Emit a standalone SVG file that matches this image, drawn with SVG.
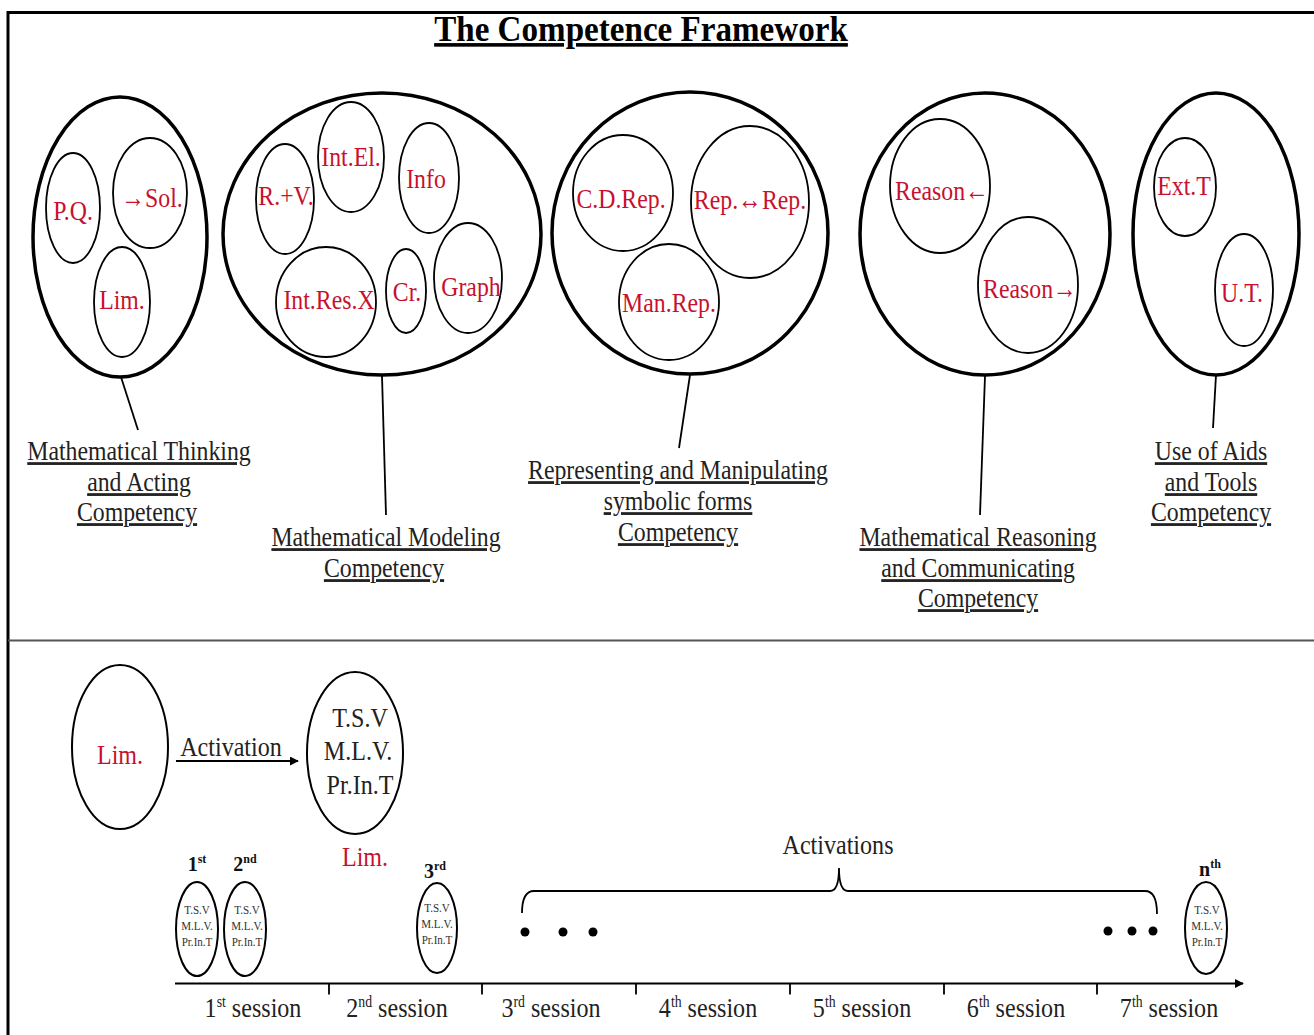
<svg xmlns="http://www.w3.org/2000/svg" width="1314" height="1035" viewBox="0 0 1314 1035">
<defs>
<style>
.big{fill:none;stroke:#000;stroke-width:3.5}
.in{fill:none;stroke:#000;stroke-width:1.8}
.ov{fill:none;stroke:#000;stroke-width:2}
text{font-family:"Liberation Serif","Times New Roman",serif;text-anchor:middle}
.red{font-size:28px;fill:#c8102e}
.lbl{font-size:28px;fill:#222;text-decoration:underline}
.blk{font-size:28px;fill:#222}
.sm{font-size:13.5px;fill:#333}
.ord{font-size:20px;font-weight:bold;fill:#111}
.con{stroke:#000;stroke-width:1.8;fill:none}
</style>
<marker id="ah" viewBox="0 0 10 10" refX="9" refY="5" markerWidth="9" markerHeight="9" markerUnits="userSpaceOnUse" orient="auto">
<path d="M0,0 L10,5 L0,10 z" fill="#000"/>
</marker>
</defs>
<rect width="1314" height="1035" fill="#fff"/>
<!-- frame -->
<line x1="7" y1="12.5" x2="1314" y2="12.5" stroke="#000" stroke-width="3"/>
<line x1="8" y1="11" x2="8" y2="1035" stroke="#000" stroke-width="3"/>
<line x1="8" y1="640.5" x2="1314" y2="640.5" stroke="#555" stroke-width="2"/>
<text transform="translate(641,41) scale(0.92,1)" font-size="36" font-weight="bold" text-decoration="underline" fill="#000">The Competence Framework</text>

<g id="connectors">
<line class="con" x1="121" y1="377" x2="138" y2="430"/>
<line class="con" x1="382" y1="376" x2="386" y2="515"/>
<line class="con" x1="690" y1="375" x2="679" y2="448"/>
<line class="con" x1="985" y1="376" x2="980" y2="515"/>
<line class="con" x1="1216" y1="375" x2="1213" y2="428"/>
<line class="con" x1="176" y1="761" x2="298" y2="761" marker-end="url(#ah)"/>
<line class="con" x1="175" y1="983.5" x2="1243" y2="983.5" marker-end="url(#ah)"/>
<path class="con" d="M329,983.5 v11 M482,983.5 v11 M636,983.5 v11 M790,983.5 v11 M944,983.5 v11 M1097,983.5 v11"/>
<path class="con" d="M522,913 Q522,891 534,891 L830,891 Q839,891 839,868 Q839,891 848,891 L1145,891 Q1157,891 1157,914"/>
</g>

<g id="thinking">
<ellipse class="big" cx="120" cy="237" rx="87" ry="140"/>
<ellipse class="in" cx="73" cy="208" rx="27" ry="55"/>
<ellipse class="in" cx="150" cy="193" rx="37" ry="55"/>
<ellipse class="in" cx="122" cy="302" rx="28" ry="55"/>
<text class="red" transform="translate(73,220) scale(0.85,1)">P.Q.</text>
<text class="red" transform="translate(152,207) scale(0.85,1)">→Sol.</text>
<text class="red" transform="translate(122,309) scale(0.85,1)">Lim.</text>
<text class="lbl" transform="translate(139,460) scale(0.85,1)">Mathematical Thinking</text>
<text class="lbl" transform="translate(139,491) scale(0.85,1)">and Acting</text>
<text class="lbl" transform="translate(137,521) scale(0.85,1)">Competency</text>
</g>

<g id="modeling">
<ellipse class="big" cx="382" cy="234" rx="159" ry="141"/>
<ellipse class="in" cx="285" cy="199" rx="29" ry="55"/>
<ellipse class="in" cx="351" cy="157" rx="33" ry="55"/>
<ellipse class="in" cx="429" cy="178" rx="30" ry="55"/>
<ellipse class="in" cx="326" cy="302" rx="50" ry="55"/>
<ellipse class="in" cx="406" cy="291" rx="20" ry="42"/>
<ellipse class="in" cx="468" cy="278" rx="34" ry="55"/>
<text class="red" transform="translate(286,205) scale(0.85,1)">R.+V.</text>
<text class="red" transform="translate(351,166) scale(0.85,1)">Int.El.</text>
<text class="red" transform="translate(426,188) scale(0.85,1)">Info</text>
<text class="red" transform="translate(329,309) scale(0.85,1)">Int.Res.X</text>
<text class="red" transform="translate(407,301) scale(0.85,1)">Cr.</text>
<text class="red" transform="translate(471,296) scale(0.85,1)">Graph</text>
<text class="lbl" transform="translate(386,546) scale(0.85,1)">Mathematical Modeling</text>
<text class="lbl" transform="translate(384,577) scale(0.85,1)">Competency</text>
</g>

<g id="representing">
<ellipse class="big" cx="690" cy="233" rx="138" ry="141"/>
<ellipse class="in" cx="623" cy="193" rx="50" ry="58"/>
<ellipse class="in" cx="750" cy="202" rx="59" ry="76"/>
<ellipse class="in" cx="669" cy="302" rx="50" ry="58"/>
<text class="red" transform="translate(621,208) scale(0.85,1)">C.D.Rep.</text>
<text class="red" transform="translate(750,209) scale(0.85,1)">Rep.↔Rep.</text>
<text class="red" transform="translate(669,312) scale(0.85,1)">Man.Rep.</text>
<text class="lbl" transform="translate(678,479) scale(0.85,1)">Representing and Manipulating</text>
<text class="lbl" transform="translate(678,510) scale(0.85,1)">symbolic forms</text>
<text class="lbl" transform="translate(678,541) scale(0.85,1)">Competency</text>
</g>

<g id="reasoning">
<ellipse class="big" cx="985" cy="234" rx="125" ry="141"/>
<ellipse class="in" cx="940" cy="186" rx="50" ry="67"/>
<ellipse class="in" cx="1028" cy="285" rx="50" ry="68"/>
<text class="red" transform="translate(942,200) scale(0.85,1)">Reason←</text>
<text class="red" transform="translate(1030,298) scale(0.85,1)">Reason→</text>
<text class="lbl" transform="translate(978,546) scale(0.85,1)">Mathematical Reasoning</text>
<text class="lbl" transform="translate(978,577) scale(0.85,1)">and Communicating</text>
<text class="lbl" transform="translate(978,607) scale(0.85,1)">Competency</text>
</g>

<g id="tools">
<ellipse class="big" cx="1216" cy="234" rx="83" ry="141"/>
<ellipse class="in" cx="1185" cy="187" rx="31" ry="49"/>
<ellipse class="in" cx="1244" cy="290" rx="29" ry="56"/>
<text class="red" transform="translate(1184,195) scale(0.85,1)">Ext.T</text>
<text class="red" transform="translate(1242,302) scale(0.85,1)">U.T.</text>
<text class="lbl" transform="translate(1211,460) scale(0.85,1)">Use of Aids</text>
<text class="lbl" transform="translate(1211,491) scale(0.85,1)">and Tools</text>
<text class="lbl" transform="translate(1211,521) scale(0.85,1)">Competency</text>
</g>

<g id="lim-before">
<ellipse class="ov" cx="120" cy="747" rx="48" ry="82"/>
<text class="red" transform="translate(120,764) scale(0.86,1)">Lim.</text>
</g>
<text class="blk" transform="translate(231,756) scale(0.86,1)">Activation</text>
<g id="lim-after">
<ellipse class="ov" cx="355" cy="753" rx="48" ry="81"/>
<text class="blk" transform="translate(360,727) scale(0.86,1)">T.S.V</text>
<text class="blk" transform="translate(358,760) scale(0.86,1)">M.L.V.</text>
<text class="blk" transform="translate(360,794) scale(0.86,1)">Pr.In.T</text>
<text class="red" transform="translate(365,866) scale(0.86,1)">Lim.</text>
</g>

<g id="s1">
<ellipse class="ov" cx="197" cy="929" rx="21" ry="47"/>
<text class="ord" x="197" y="871">1<tspan font-size="12" dy="-8">st</tspan></text>
<text class="sm" transform="translate(197,914) scale(0.82,1)">T.S.V</text>
<text class="sm" transform="translate(197,930) scale(0.82,1)">M.L.V.</text>
<text class="sm" transform="translate(197,946) scale(0.82,1)">Pr.In.T</text>
</g>
<g id="s2">
<ellipse class="ov" cx="245" cy="929" rx="21" ry="47"/>
<text class="ord" x="245" y="871">2<tspan font-size="12" dy="-8">nd</tspan></text>
<text class="sm" transform="translate(247,914) scale(0.82,1)">T.S.V</text>
<text class="sm" transform="translate(247,930) scale(0.82,1)">M.L.V.</text>
<text class="sm" transform="translate(247,946) scale(0.82,1)">Pr.In.T</text>
</g>
<g id="s3">
<ellipse class="ov" cx="437" cy="928" rx="20" ry="45"/>
<text class="ord" x="435" y="878">3<tspan font-size="12" dy="-8">rd</tspan></text>
<text class="sm" transform="translate(437,912) scale(0.82,1)">T.S.V</text>
<text class="sm" transform="translate(437,928) scale(0.82,1)">M.L.V.</text>
<text class="sm" transform="translate(437,944) scale(0.82,1)">Pr.In.T</text>
</g>
<g id="sn">
<ellipse class="ov" cx="1206" cy="928" rx="21" ry="46"/>
<text class="ord" x="1210" y="876">n<tspan font-size="12" dy="-8">th</tspan></text>
<text class="sm" transform="translate(1207,914) scale(0.82,1)">T.S.V</text>
<text class="sm" transform="translate(1207,930) scale(0.82,1)">M.L.V.</text>
<text class="sm" transform="translate(1207,946) scale(0.82,1)">Pr.In.T</text>
</g>

<g id="dots" fill="#000">
<circle cx="525" cy="932" r="4.5"/><circle cx="563" cy="932" r="4.5"/><circle cx="593" cy="932" r="4.5"/>
<circle cx="1108" cy="931" r="4.5"/><circle cx="1132" cy="931" r="4.5"/><circle cx="1153" cy="931" r="4.5"/>
</g>
<text class="blk" transform="translate(838,854) scale(0.86,1)">Activations</text>

<g id="sessions">
<text class="blk" transform="translate(253,1017) scale(0.86,1)">1<tspan font-size="16" dy="-10">st</tspan><tspan dy="10"> session</tspan></text>
<text class="blk" transform="translate(397,1017) scale(0.86,1)">2<tspan font-size="16" dy="-10">nd</tspan><tspan dy="10"> session</tspan></text>
<text class="blk" transform="translate(551,1017) scale(0.86,1)">3<tspan font-size="16" dy="-10">rd</tspan><tspan dy="10"> session</tspan></text>
<text class="blk" transform="translate(708,1017) scale(0.86,1)">4<tspan font-size="16" dy="-10">th</tspan><tspan dy="10"> session</tspan></text>
<text class="blk" transform="translate(862,1017) scale(0.86,1)">5<tspan font-size="16" dy="-10">th</tspan><tspan dy="10"> session</tspan></text>
<text class="blk" transform="translate(1016,1017) scale(0.86,1)">6<tspan font-size="16" dy="-10">th</tspan><tspan dy="10"> session</tspan></text>
<text class="blk" transform="translate(1169,1017) scale(0.86,1)">7<tspan font-size="16" dy="-10">th</tspan><tspan dy="10"> session</tspan></text>
</g>
</svg>
